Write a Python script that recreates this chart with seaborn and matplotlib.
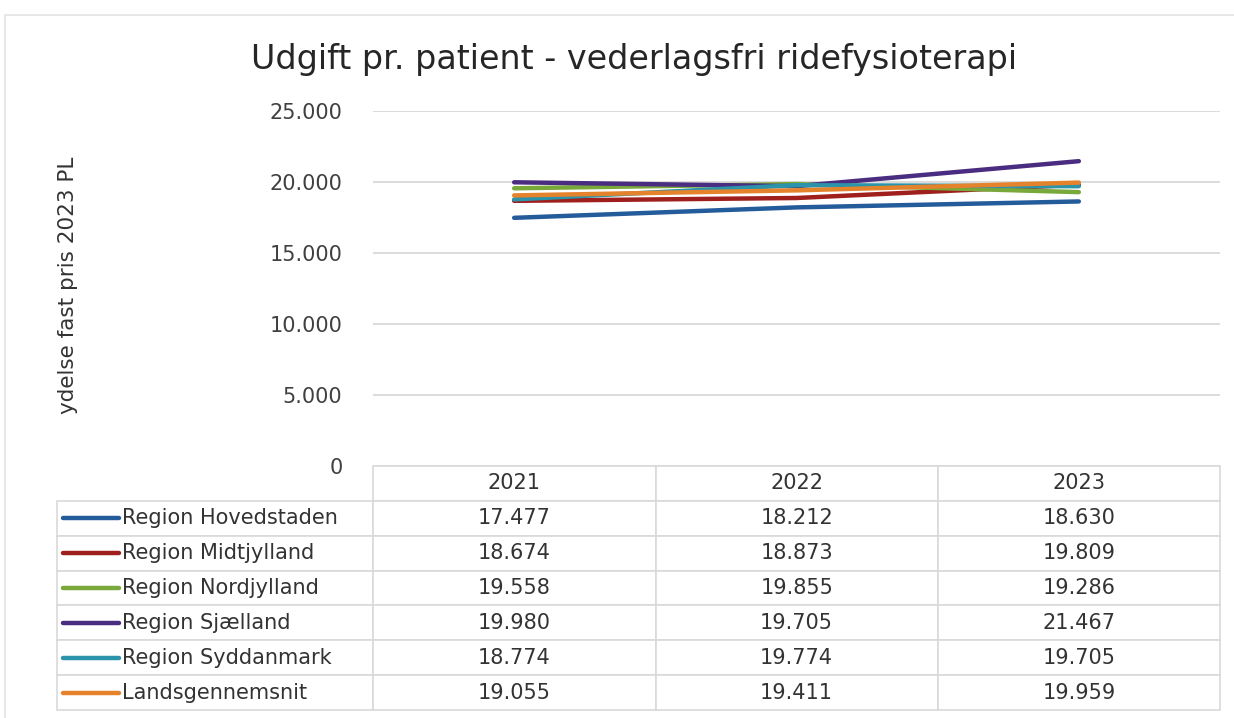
import matplotlib
matplotlib.use("Agg")
import matplotlib.pyplot as plt
from matplotlib.patches import Rectangle
from matplotlib.ticker import FuncFormatter
import seaborn as sns
import pandas as pd

# %% data
years = [2021, 2022, 2023]
regions = ["Region Hovedstaden", "Region Midtjylland", "Region Nordjylland",
           "Region Sjælland", "Region Syddanmark", "Landsgennemsnit"]
hovedstaden = [17477, 18212, 18630]
midtjylland = [18674, 18873, 19809]
nordjylland = [19558, 19855, 19286]
sjaelland = [19980, 19705, 21467]
syddanmark = [18774, 19774, 19705]
landsgennemsnit = [19055, 19411, 19959]
colors = ["#245b9a", "#9e1f1c", "#79a83b", "#4a2c80", "#2b93aa", "#e5832d"]

series = [hovedstaden, midtjylland, nordjylland, sjaelland, syddanmark, landsgennemsnit]
df = pd.DataFrame([(r, y, v) for r, vals in zip(regions, series) for y, v in zip(years, vals)],
                  columns=["region", "year", "value"])
palette = dict(zip(regions, colors))


def dk(v):
    return f"{v:,.0f}".replace(",", ".")


# %% figure
sns.set_style("white")
plt.rcParams["font.family"] = ["DejaVu Sans"]
W, H = 1234, 718
fig = plt.figure(figsize=(W / 100, H / 100), dpi=100)
ax = fig.add_axes([373 / W, 1 - 466 / H, 847 / W, 355 / H])

sns.lineplot(data=df, x="year", y="value", hue="region", palette=palette,
             hue_order=regions, lw=3.2, ax=ax, legend=False, solid_capstyle="round")

ax.set_xlim(years[0] - 0.5, years[-1] + 0.5)
ax.set_ylim(0, 25000)
ax.set_yticks([0, 5000, 10000, 15000, 20000, 25000])
ax.yaxis.set_major_formatter(FuncFormatter(lambda v, p: dk(v)))
ax.set_xticks([])
ax.set_xlabel("")
ax.set_ylabel("")
ax.grid(axis="y", color="#d9d9d9", lw=1.3)
ax.tick_params(axis="y", length=0, pad=22, labelsize=15, labelcolor="#404040")
sns.despine(ax=ax, left=True, bottom=True)

# data table below the plot
cell_text = [[r] + [dk(v) for v in vals] for r, vals in zip(regions, series)]
tbl = ax.table(cellText=cell_text, colLabels=[""] + [str(y) for y in years],
               colWidths=[316, 282, 282, 282], cellLoc="center",
               bbox=[(57 - 373) / 847, (466 - 710) / 355, 1163 / 847, 244 / 355])
tbl.auto_set_font_size(False)
tbl.set_fontsize(15)
for (r, c), cell in tbl.get_celld().items():
    cell.set_edgecolor("#d9d9d9")
    cell.set_linewidth(1.2)
    cell.get_text().set_color("#333333")
    if r == 0 and c == 0:
        cell.set_visible(False)
    if c == 0 and r > 0:
        cell.get_text().set_ha("left")
        cell.PAD = 0.205

# line swatches in the row label column
row_h = 244 / 7
for i, col in enumerate(colors):
    yc = (466 - (466 + row_h * (i + 1.5))) / 355
    ax.plot([(63 - 373) / 847, (119 - 373) / 847], [yc, yc], color=col, lw=3.2,
            solid_capstyle="round", transform=ax.transAxes, clip_on=False)

fig.text(634 / W, 1 - 60 / H, "Udgift pr. patient - vederlagsfri ridefysioterapi",
         ha="center", va="center", fontsize=24, color="#262626")
fig.text(68 / W, 1 - 285 / H, "ydelse fast pris 2023 PL", rotation=90,
         ha="center", va="center", fontsize=15.5, color="#333333")

fig.patches.append(Rectangle((5 / W, -0.01), 1.0, 1 - 15 / H + 0.01, transform=fig.transFigure,
                             fill=False, edgecolor="#e3e3e3", lw=1.2))

fig.savefig("out.png", dpi=100)
